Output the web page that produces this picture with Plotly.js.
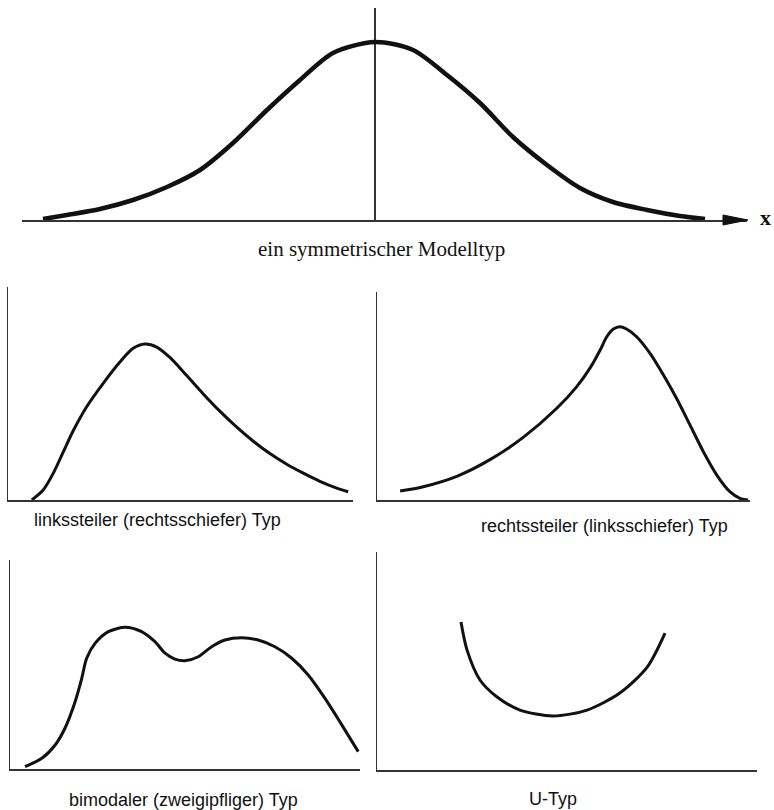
<!DOCTYPE html>
<html>
<head>
<meta charset="utf-8">
<script src="https://cdn.plot.ly/plotly-3.0.1.min.js"></script>
<style>
  html, body { margin: 0; padding: 0; background: #fff; }
  #plot { width: 774px; height: 810px; }
</style>
</head>
<body>
<div id="plot"></div>
<script>
// Symmetrischer Modelltyp (Glockenkurve)
const symX = [-3.32, -3.08, -2.75, -2.42, -2.08, -1.75, -1.42, -1.08, -0.75, -0.42, 0,
              0.38, 0.72, 1.05, 1.38, 1.72, 2.05, 2.38, 2.72, 3.05, 3.30];
const symY = [0.01, 0.05, 0.11, 0.20, 0.33, 0.50, 0.77, 1.10, 1.40, 1.67, 1.78,
              1.70, 1.45, 1.17, 0.83, 0.55, 0.32, 0.18, 0.10, 0.04, 0.01];

// linkssteiler (rechtsschiefer) Typ
const leftX = [0.69, 1.02, 1.31, 1.60, 1.89, 2.28, 2.76, 3.25, 3.63, 3.97, 4.31, 4.70,
               5.18, 5.66, 6.14, 6.63, 7.11, 7.59, 8.08, 8.56, 9.04, 9.53, 9.86];
const leftY = [0.00, 0.47, 1.25, 2.25, 3.25, 4.38, 5.48, 6.49, 7.12, 7.32, 7.18, 6.68,
               5.84, 4.98, 4.17, 3.42, 2.76, 2.18, 1.68, 1.26, 0.88, 0.56, 0.39];

// rechtssteiler (linksschiefer) Typ
const rightX = [0.62, 1.24, 2.14, 3.03, 3.92, 4.82, 5.35, 5.71, 5.98, 6.16, 6.34, 6.51,
                6.69, 6.96, 7.32, 7.68, 8.03, 8.39, 8.75, 9.11, 9.46, 9.73, 9.95];
const rightY = [0.43, 0.64, 1.14, 1.94, 3.01, 4.41, 5.44, 6.34, 7.20, 7.85, 8.22, 8.33,
                8.22, 7.85, 7.05, 6.01, 4.89, 3.61, 2.32, 1.20, 0.40, 0.08, 0.00];

// bimodaler (zweigipfliger) Typ
const bimX = [0.43, 0.91, 1.29, 1.57, 1.86, 2.05, 2.19, 2.43, 2.81, 3.29, 3.76, 4.14, 4.43,
              4.71, 5.00, 5.38, 5.76, 6.14, 6.62, 7.09, 7.57, 8.05, 8.52, 9.00, 9.48, 9.95];
const bimY = [0.11, 0.51, 1.15, 1.95, 3.22, 4.34, 5.30, 6.01, 6.57, 6.78, 6.57, 6.09, 5.54,
              5.26, 5.18, 5.37, 5.85, 6.17, 6.28, 6.17, 5.85, 5.30, 4.50, 3.38, 2.11, 0.83];

// U-Typ
const uX = [2.21, 2.37, 2.71, 3.16, 3.76, 4.63, 5.53, 6.39, 7.11, 7.58];
const uY = [6.79, 5.50, 4.13, 3.35, 2.75, 2.48, 2.75, 3.53, 4.72, 6.28];

const captions = [
  'ein symmetrischer Modelltyp',
  'linkssteiler (rechtsschiefer) Typ',
  'rechtssteiler (linksschiefer) Typ',
  'bimodaler (zweigipfliger) Typ',
  'U-Typ'
];

const W = 774, H = 810;
const px = v => v / W;
const py = v => 1 - v / H;

function curve(x, y, axis, width) {
  return {
    x: x, y: y, xaxis: 'x' + axis, yaxis: 'y' + axis,
    type: 'scatter', mode: 'lines',
    line: { color: '#111', width: width, shape: 'spline', smoothing: 0.8 },
    hoverinfo: 'skip'
  };
}

const traces = [
  curve(symX, symY, '', 4.5),
  curve(leftX, leftY, '2', 3),
  curve(rightX, rightY, '3', 3),
  curve(bimX, bimY, '4', 3),
  curve(uX, uY, '5', 3)
];

function ax(domain, range, line, extra) {
  return Object.assign({
    domain: domain, range: range,
    showgrid: false, zeroline: false, showticklabels: false, ticks: '',
    showline: line, linecolor: '#333', linewidth: 1.5, fixedrange: true
  }, extra || {});
}

function caption(text, cx, cy, family, size) {
  return {
    text: text, xref: 'paper', yref: 'paper', x: px(cx), y: py(cy),
    xanchor: 'center', yanchor: 'middle', showarrow: false,
    font: { family: family, size: size, color: '#111' }
  };
}

const topXRange = [-3.53, 3.72];
const topYRange = [0, 2.12];

const layout = {
  width: W, height: H,
  margin: { l: 0, r: 0, t: 0, b: 0 },
  paper_bgcolor: '#fff', plot_bgcolor: '#fff',
  showlegend: false,
  xaxis:  ax([px(22), px(747)], topXRange, true,
             { zeroline: true, zerolinecolor: '#333', zerolinewidth: 1.5 }),
  yaxis:  ax([py(220), py(8)], topYRange, false),
  xaxis2: ax([px(8), px(353)], [0, 10], true, { anchor: 'y2' }),
  yaxis2: ax([py(500), py(287)], [0, 10], true, { anchor: 'x2' }),
  xaxis3: ax([px(377), px(750)], [0, 10], true, { anchor: 'y3' }),
  yaxis3: ax([py(500), py(292)], [0, 10], true, { anchor: 'x3' }),
  xaxis4: ax([px(10), px(360)], [0, 10], true, { anchor: 'y4' }),
  yaxis4: ax([py(769), py(560)], [0, 10], true, { anchor: 'x4' }),
  xaxis5: ax([px(377), px(757)], [0, 10], true, { anchor: 'y5' }),
  yaxis5: ax([py(770), py(552)], [0, 10], true, { anchor: 'x5' }),
  shapes: [
    // Pfeilspitze am Ende der x-Achse
    {
      type: 'path', xref: 'paper', yref: 'paper',
      path: 'M ' + px(723) + ' ' + py(215) + ' L ' + px(748) + ' ' + py(220) +
            ' L ' + px(723) + ' ' + py(225) + ' Z',
      fillcolor: '#111', line: { color: '#111', width: 1 }
    }
  ],
  annotations: [
    caption('<b>x</b>', 765, 217, 'Liberation Serif', 22),
    caption(captions[0], 381, 249, 'Liberation Serif', 21),
    caption(captions[1], 157, 520, 'Liberation Sans', 18),
    caption(captions[2], 604, 526, 'Liberation Sans', 18),
    caption(captions[3], 183, 800, 'Liberation Sans', 18),
    caption(captions[4], 553, 799, 'Liberation Sans', 18)
  ]
};

Plotly.newPlot('plot', traces, layout, { staticPlot: true, displayModeBar: false });
</script>
</body>
</html>
